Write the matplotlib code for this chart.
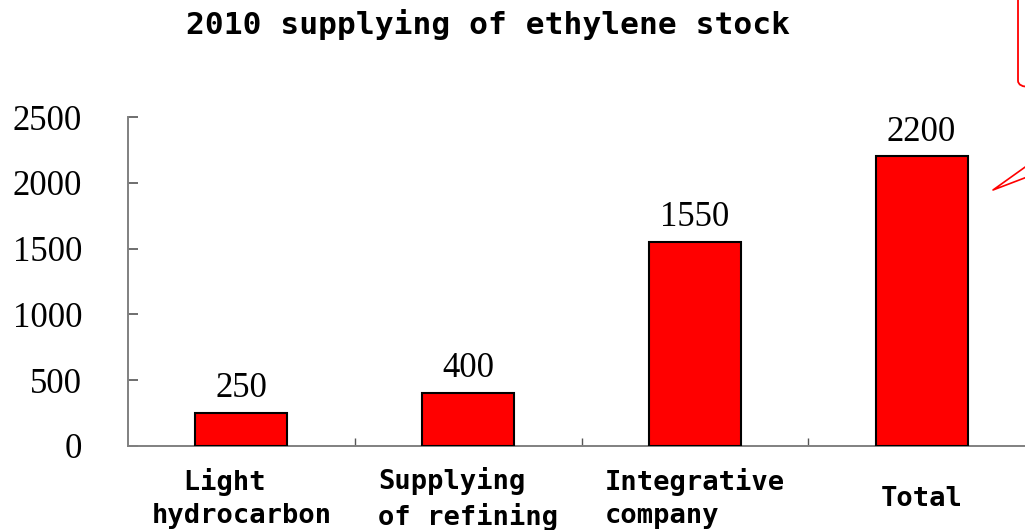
import matplotlib
matplotlib.use('Agg')
import matplotlib.pyplot as plt
from matplotlib.patches import FancyBboxPatch
from matplotlib.lines import Line2D

# data
categories = ['  Light\nhydrocarbon', 'Supplying\nof refining', 'Integrative\ncompany', 'Total']
values = [250, 400, 1550, 2200]
y_ticks = [0, 500, 1000, 1500, 2000, 2500]
title = '2010 supplying of ethylene stock'

mono = ['DejaVu Sans Mono', 'DejaVu Sans']
serif = ['Liberation Serif', 'DejaVu Serif']

fig = plt.figure(figsize=(10.25, 5.3), dpi=100)
ax = fig.add_axes([128 / 1025, 84 / 530, 907 / 1025, 329 / 530])

x = range(len(categories))
ax.bar(x, values, width=0.405, color='#FF0000', edgecolor='black', linewidth=1.5, zorder=3)

for i, v in zip(x, values):
    ax.annotate('%d' % v, xy=(i, v), xytext=(0, 11.5), textcoords='offset points',
                ha='center', va='baseline', fontsize=25, family=serif)

ax.set_xlim(-0.5, len(categories) - 0.5)
ax.set_ylim(0, 2500)
ax.set_yticks(y_ticks)
ax.set_yticklabels([str(t) for t in y_ticks], family=serif, fontsize=25)
ax.tick_params(axis='y', direction='in', length=7, width=1.2, color='#555555', pad=33)

# category boundaries carry the x ticks, labels sit at centers
ax.set_xticks([i + 0.5 for i in range(len(categories) - 1)], minor=False)
ax.set_xticklabels([])
ax.tick_params(axis='x', direction='in', length=6, width=1.0, color='#555555')
ax.set_xticks(list(x), minor=True)
ax.set_xticklabels(categories, minor=True, family=mono, fontweight='bold', fontsize=19.5)
ax.tick_params(axis='x', which='minor', length=0, pad=38)
for lab in ax.get_xticklabels(minor=True):
    lab.set_multialignment('left')
    lab.set_va('center')
    lab.set_linespacing(1.35)

for s in ['top', 'right']:
    ax.spines[s].set_visible(False)
for s in ['left', 'bottom']:
    ax.spines[s].set_color('#808080')
    ax.spines[s].set_linewidth(1.4)

fig.text(488 / 1025, 1 - 24 / 530, title, ha='center', va='center',
         fontsize=22.5, fontweight='bold', family=mono)

# callout shape cut off at the top right corner
box = FancyBboxPatch((1018 / 1025, 1 - 87 / 530), 0.1, 0.3,
                     boxstyle='round,pad=0,rounding_size=0.012',
                     transform=fig.transFigure, facecolor='none', edgecolor='red',
                     linewidth=1.3, clip_on=False)
fig.patches.append(box)
tip = (993 / 1025, 1 - 190 / 530)
fig.add_artist(Line2D([1035 / 1025, tip[0], 1035 / 1025],
                      [1 - 160 / 530, tip[1], 1 - 174 / 530],
                      transform=fig.transFigure, color='red', linewidth=1.2))

fig.savefig('out.png', dpi=100)
